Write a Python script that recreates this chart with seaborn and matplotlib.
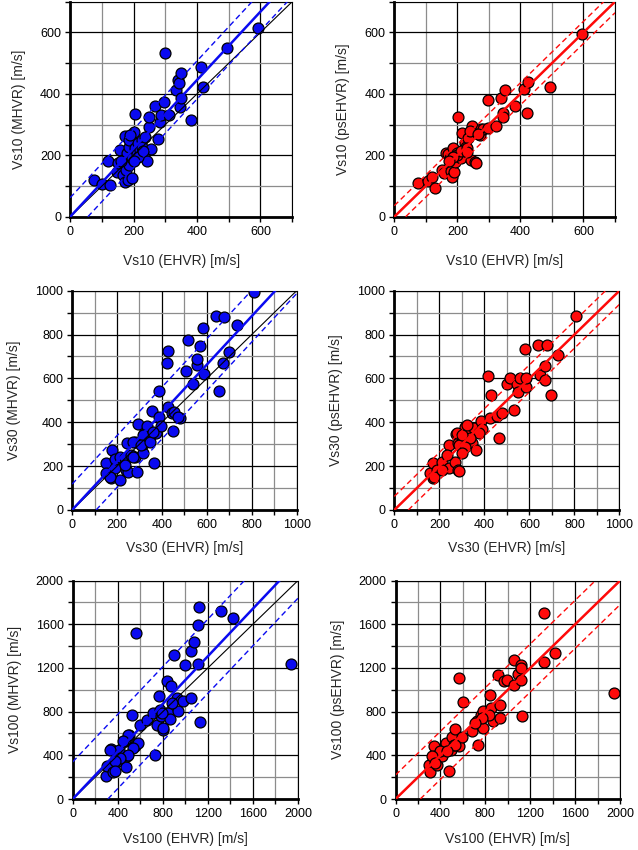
import numpy as np
import pandas as pd
import matplotlib
matplotlib.use("Agg")
import matplotlib.pyplot as plt
from matplotlib.ticker import MultipleLocator
import seaborn as sns

# Vs10 : EHVR vs MHVR
vs10_ehvr_m = [74, 100, 126, 118, 147, 152, 158, 168, 168, 172, 174, 177, 179, 181, 184, 184, 184, 195, 195, 200,
               203, 205, 210, 215, 221, 226, 226, 232, 242, 247, 250, 256, 268, 276, 282, 287, 295, 298, 313, 334,
               340, 343, 345, 348, 349, 382, 411, 418, 493, 593, 190, 160, 215, 235, 200, 230]
vs10_mhvr = [120, 108, 103, 183, 147, 174, 217, 136, 185, 114, 263, 152, 207, 120, 228, 169, 250, 190, 127, 277,
             335, 223, 205, 240, 217, 250, 228, 200, 181, 293, 324, 220, 361, 252, 310, 331, 375, 533, 332, 413,
             446, 435, 357, 388, 467, 315, 489, 421, 549, 616, 265, 180, 195, 260, 180, 215]

# Vs10 : EHVR vs psEHVR
vs10_ehvr_p = [74, 108, 121, 129, 152, 159, 165, 171, 178, 181, 184, 187, 190, 192, 200, 203, 212, 215, 223, 227,
               234, 243, 247, 255, 258, 271, 276, 281, 298, 298, 323, 338, 346, 346, 351, 383, 411, 422, 423, 494,
               596, 200, 210, 232, 185, 175, 240, 265, 230]
vs10_psehvr = [111, 116, 130, 92, 152, 141, 207, 204, 190, 150, 130, 223, 147, 179, 207, 324, 190, 274, 239, 228,
               256, 185, 296, 179, 174, 266, 285, 286, 380, 288, 296, 385, 337, 326, 411, 359, 415, 337, 440, 421,
               596, 200, 215, 225, 195, 180, 280, 270, 210]

# Vs30 : EHVR vs MHVR
vs30_ehvr_m = [153, 153, 178, 172, 190, 193, 212, 215, 235, 245, 242, 251, 264, 279, 279, 287, 294, 314, 317, 320,
               332, 339, 349, 354, 364, 373, 388, 388, 398, 424, 429, 428, 443, 450, 453, 480, 505, 517, 539, 554,
               557, 569, 584, 588, 640, 676, 655, 670, 700, 733, 810, 472, 316, 272, 309, 346, 272, 168, 235, 361]
vs30_mhvr = [213, 170, 274, 144, 190, 231, 137, 243, 236, 307, 182, 175, 251, 312, 243, 175, 392, 258, 301, 347,
             383, 347, 331, 451, 213, 353, 544, 423, 383, 672, 727, 471, 441, 362, 448, 418, 635, 775, 575, 661,
             687, 748, 828, 619, 885, 882, 543, 669, 719, 844, 994, 425, 342, 311, 296, 311, 243, 152, 205, 357]

# Vs30 : EHVR vs psEHVR
vs30_ehvr_p = [159, 173, 170, 188, 210, 243, 243, 270, 274, 284, 284, 296, 314, 311, 329, 344, 356, 361, 385, 390,
               418, 430, 425, 455, 467, 477, 499, 514, 533, 544, 551, 559, 581, 584, 584, 636, 647, 667, 670, 679,
               696, 729, 807, 323, 375, 279, 338, 286, 316, 234, 301, 286, 175, 212, 301]
vs30_psehvr = [170, 144, 216, 182, 220, 296, 190, 220, 347, 182, 304, 342, 380, 296, 350, 307, 375, 274, 407, 368,
               611, 524, 421, 429, 330, 444, 573, 600, 456, 575, 540, 600, 733, 562, 603, 752, 616, 593, 657, 752,
               524, 707, 885, 388, 350, 350, 327, 296, 289, 251, 259, 179, 152, 182, 342]

# Vs100 : EHVR vs MHVR
vs100_ehvr_m = [296, 308, 361, 341, 385, 406, 415, 465, 471, 486, 504, 530, 554, 584, 599, 563, 658, 711, 732, 747,
                770, 776, 785, 806, 836, 850, 865, 874, 895, 924, 939, 978, 993, 1049, 1052, 1073, 1108, 1117, 1108,
                1126, 1316, 1419, 1941, 880, 791, 805, 494, 450, 539, 332, 494, 420, 376, 376]
vs100_mhvr = [214, 305, 247, 458, 376, 345, 446, 528, 290, 391, 583, 766, 482, 513, 681, 1520, 727, 788, 400, 675,
              940, 818, 757, 635, 1078, 788, 736, 1032, 1322, 925, 803, 895, 1224, 925, 1359, 1435, 1591, 1758, 1236,
              705, 1719, 1658, 1240, 880, 788, 650, 589, 528, 467, 452, 406, 376, 345, 253]

# Vs100 : EHVR vs psEHVR
vs100_ehvr_p = [294, 309, 341, 347, 371, 412, 451, 472, 490, 501, 519, 531, 561, 567, 590, 605, 682, 733, 727, 757,
                777, 780, 837, 852, 866, 911, 926, 926, 970, 994, 1053, 1059, 1089, 1113, 1119, 1125, 1320, 1326,
                1421, 1943, 828, 768, 709, 531, 397, 457, 323, 353, 1120]
vs100_psehvr = [314, 247, 482, 391, 314, 391, 513, 253, 452, 565, 498, 644, 482, 1108, 565, 885, 620, 498, 711, 772,
                803, 650, 956, 833, 711, 1139, 864, 742, 1078, 1093, 1047, 1270, 1145, 1093, 1230, 757, 1700, 1252,
                1337, 971, 772, 742, 696, 497, 436, 436, 390, 330, 1200]

# fitted line (slope through origin) and +/- band
fit_slope = [1.113, 1.0, 1.105, 1.0, 1.089, 1.0]
fit_band = [62, 36, 118, 62, 340, 220]

sns.set_style("white")
plt.rcParams["font.family"] = ["Liberation Sans", "DejaVu Sans"]

BLUE = "#0a0af0"
RED = "#ff0a0a"

panels = [
    (vs10_ehvr_m, vs10_mhvr, "Vs10 (EHVR) [m/s]", "Vs10 (MHVR) [m/s]", BLUE, 700, 200, 100),
    (vs10_ehvr_p, vs10_psehvr, "Vs10 (EHVR) [m/s]", "Vs10 (psEHVR) [m/s]", RED, 700, 200, 100),
    (vs30_ehvr_m, vs30_mhvr, "Vs30 (EHVR) [m/s]", "Vs30 (MHVR) [m/s]", BLUE, 1000, 200, 100),
    (vs30_ehvr_p, vs30_psehvr, "Vs30 (EHVR) [m/s]", "Vs30 (psEHVR) [m/s]", RED, 1000, 200, 100),
    (vs100_ehvr_m, vs100_mhvr, "Vs100 (EHVR) [m/s]", "Vs100 (MHVR) [m/s]", BLUE, 2000, 400, 200),
    (vs100_ehvr_p, vs100_psehvr, "Vs100 (EHVR) [m/s]", "Vs100 (psEHVR) [m/s]", RED, 2000, 400, 200),
]

rects = [
    [0.110, 0.745, 0.348, 0.253],
    [0.618, 0.745, 0.346, 0.253],
    [0.113, 0.400, 0.352, 0.258],
    [0.618, 0.400, 0.353, 0.258],
    [0.114, 0.060, 0.353, 0.257],
    [0.620, 0.060, 0.352, 0.257],
]
xpad = [11.5, 11.5, 7.5, 7.5, 8.5, 8.5]

fig = plt.figure(figsize=(6.38, 8.5), dpi=100)

for i, (xs, ys, xlab, ylab, col, vmax, major, minor) in enumerate(panels):
    ax = fig.add_axes(rects[i])
    df = pd.DataFrame({"x": xs, "y": ys})
    sns.scatterplot(data=df, x="x", y="y", ax=ax, color=col, s=62,
                    edgecolor="black", linewidth=0.9, zorder=3)

    ax.axline((0, 0), slope=1.0, color="black", lw=0.8, zorder=4)
    s, b = fit_slope[i], fit_band[i]
    ax.axline((0, 0), slope=s, color=col, lw=1.8, zorder=5)
    ax.axline((0, b), slope=s, color=col, lw=1.0, ls=(0, (4, 2.5)), zorder=5)
    ax.axline((0, -b), slope=s, color=col, lw=1.0, ls=(0, (4, 2.5)), zorder=5)

    ax.set_xlim(0, vmax)
    ax.set_ylim(0, vmax)
    for axis in (ax.xaxis, ax.yaxis):
        axis.set_major_locator(MultipleLocator(major))
        axis.set_minor_locator(MultipleLocator(minor))
    ax.grid(which="major", color="black", lw=0.9, zorder=0)
    ax.grid(which="minor", color="#8c8c8c", lw=0.9, zorder=0)
    ax.set_axisbelow(True)

    ax.tick_params(which="both", direction="out", length=3.5, width=1.0,
                   bottom=True, left=True, colors="black", labelsize=9, pad=3)
    for side in ("left", "bottom"):
        ax.spines[side].set_linewidth(2.0)
        ax.spines[side].set_color("black")
    for side in ("top", "right"):
        ax.spines[side].set_linewidth(0.8)
        ax.spines[side].set_color("black")

    ax.set_xlabel(xlab, fontsize=10, labelpad=xpad[i])
    ax.set_ylabel(ylab, fontsize=10, labelpad=10)

fig.savefig("out.png", dpi=100)
